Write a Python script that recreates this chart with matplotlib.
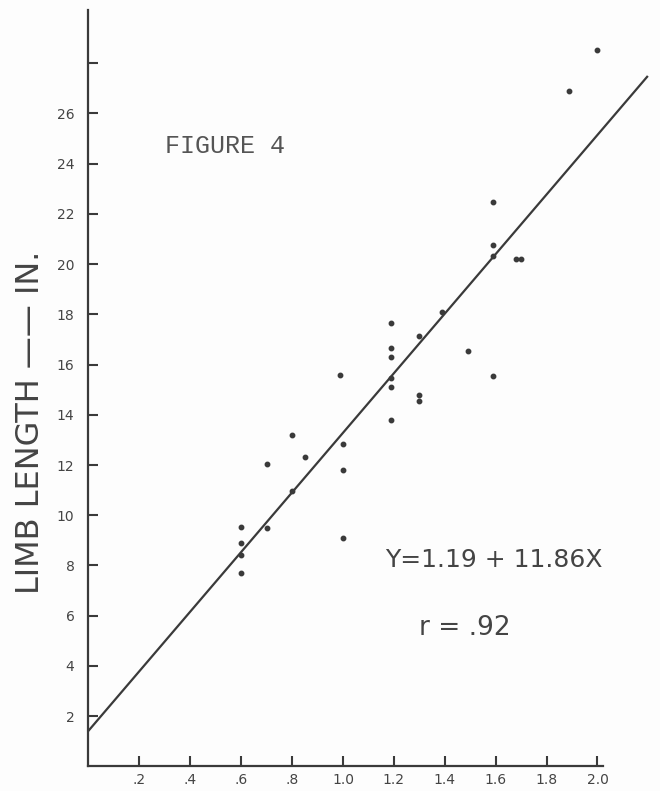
import matplotlib
matplotlib.use("Agg")
from matplotlib import pyplot as plt

# measured points (x, limb length in inches)
x_vals = [2.00, 1.89, 1.59, 1.59, 1.59, 1.68, 1.70, 1.39, 1.19, 1.30, 1.19, 1.19,
          1.49, 1.19, 1.19, 1.59, 1.30, 1.30, 1.19, 0.99, 0.80, 1.00, 0.85, 0.70,
          1.00, 0.80, 0.70, 0.60, 0.60, 0.60, 0.60, 1.00]
y_vals = [28.5, 26.9, 22.45, 20.75, 20.3, 20.2, 20.2, 18.1, 17.65, 17.15, 16.65, 16.3,
          16.55, 15.45, 15.1, 15.55, 14.8, 14.55, 13.8, 15.6, 13.2, 12.85, 12.3, 12.05,
          11.8, 10.95, 9.5, 9.55, 8.9, 8.4, 7.7, 9.1]

# fitted line as drawn on the sheet
line_x = [0.0, 2.195]
line_b = 1.42
line_m = 11.86

x_ticks = [0.2, 0.4, 0.6, 0.8, 1.0, 1.2, 1.4, 1.6, 1.8, 2.0]
x_labels = [".2", ".4", ".6", ".8", "1.0", "1.2", "1.4", "1.6", "1.8", "2.0"]
y_ticks = [2, 4, 6, 8, 10, 12, 14, 16, 18, 20, 22, 24, 26, 28]
y_labels = ["2", "4", "6", "8", "10", "12", "14", "16", "18", "20", "22", "24", "26", ""]

ink = "#3a3a3a"

fig = plt.figure(figsize=(6.6, 7.91), dpi=100, facecolor="#fdfdfd")
ax = fig.add_axes([0.134, 0.031, 0.779, 0.956])
ax.set_facecolor("#fdfdfd")

ax.plot(x_vals, y_vals, "o", color=ink, markersize=3.2, zorder=3)
ax.plot(line_x, [line_b + line_m * v for v in line_x], color=ink, lw=1.6, clip_on=False)

ax.set_xlim(0, 2.02)
ax.set_ylim(0, 30.1)
for s in ["top", "right"]:
    ax.spines[s].set_visible(False)
for s in ["left", "bottom"]:
    ax.spines[s].set_color(ink)
    ax.spines[s].set_linewidth(1.6)

ax.set_xticks(x_ticks)
ax.set_xticklabels(x_labels)
ax.set_yticks(y_ticks)
ax.set_yticklabels(y_labels)
ax.tick_params(axis="both", direction="in", length=7, width=1.5, color=ink,
               labelcolor="#444444", labelsize=10)
ax.tick_params(axis="x", pad=5)
ax.tick_params(axis="y", pad=10)

ax.set_ylabel("LIMB LENGTH —— IN.", fontsize=23, color="#444444")
ax.yaxis.set_label_coords(-0.083, 0.455)

ax.text(0.30, 24.7, "FIGURE 4", family="Liberation Mono", fontsize=18,
        color="#555555", va="center", ha="left")
ax.text(1.165, 8.2, "Y=1.19 + 11.86X", fontsize=18, color="#444444",
        va="center", ha="left")
ax.text(1.30, 5.5, "r = .92", fontsize=19, color="#444444", va="center", ha="left")

fig.savefig("out.png", dpi=100, facecolor=fig.get_facecolor())
